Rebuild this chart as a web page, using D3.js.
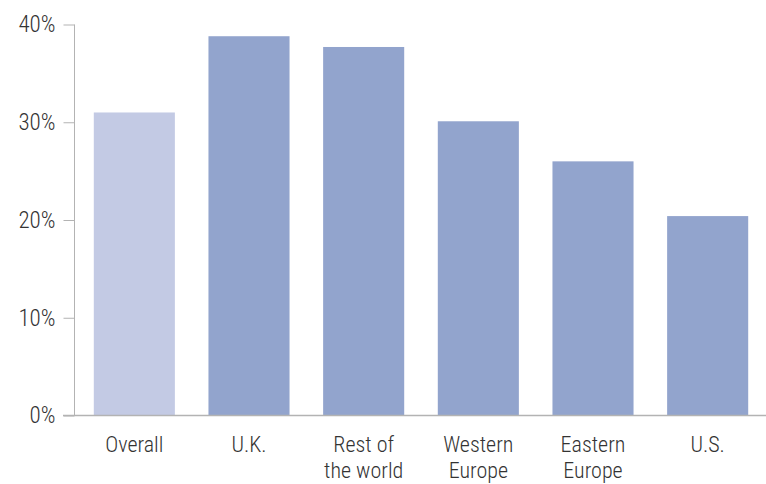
<!DOCTYPE html>
<html><head><meta charset="utf-8">
<script src="https://cdn.jsdelivr.net/npm/d3@7"></script>
<style>body{margin:0;background:#fff}svg text{font-family:"Roboto Condensed","Liberation Sans Narrow",sans-serif;font-weight:300;font-stretch:condensed;fill:#333;}</style>
</head><body>
<script>
const categories = ["Overall", "U.K.", "Rest of\nthe world", "Western\nEurope", "Eastern\nEurope", "U.S."];
const values = [31.0, 38.8, 37.7, 30.1, 26.0, 20.4];
const tickValues = [0, 10, 20, 30, 40];
const colors = ["#c3cae4", "#92a4cd", "#92a4cd", "#92a4cd", "#92a4cd", "#92a4cd"];

const W = 766, H = 484;
const svg = d3.select("body").append("svg").attr("width", W).attr("height", H);
const y = d3.scaleLinear().domain([0, 40]).range([415.5, 24.5]);
const x = d3.scaleBand().domain(categories).range([77, 765]).paddingInner(0.293).paddingOuter(0.1465);

svg.append("g").selectAll("rect").data(values).join("rect")
  .attr("x", (d, i) => x(categories[i]))
  .attr("width", x.bandwidth())
  .attr("y", d => y(d))
  .attr("height", d => y(0) - y(d))
  .attr("fill", (d, i) => colors[i]);

// y axis
const ya = svg.append("g").attr("transform", "translate(74.5,0)")
  .call(d3.axisLeft(y).tickValues(tickValues).tickSize(11).tickPadding(8).tickFormat(d => d + "%"));
ya.select(".domain").attr("stroke", "#b3b3b3").attr("d", "M0," + y(40) + "V" + y(0));
ya.selectAll(".tick line").attr("stroke", "#b3b3b3");
ya.selectAll(".tick text").style("font-size", "23px").attr("fill", "#333");

// baseline
svg.append("line").attr("x1", 63).attr("x2", W).attr("y1", y(0)).attr("y2", y(0))
  .attr("stroke", "#b3b3b3").attr("stroke-width", 1.5);

// category labels
const lab = svg.append("g").selectAll("text").data(categories).join("text")
  .attr("x", d => x(d) + x.bandwidth() / 2)
  .attr("y", 452)
  .attr("text-anchor", "middle")
  .style("font-size", "22px");
lab.each(function(d) {
  const parts = d.split("\n");
  d3.select(this).selectAll("tspan").data(parts).join("tspan")
    .attr("x", x(d) + x.bandwidth() / 2)
    .attr("dy", (p, i) => i === 0 ? 0 : 26)
    .text(p => p);
});
</script>
</body></html>
